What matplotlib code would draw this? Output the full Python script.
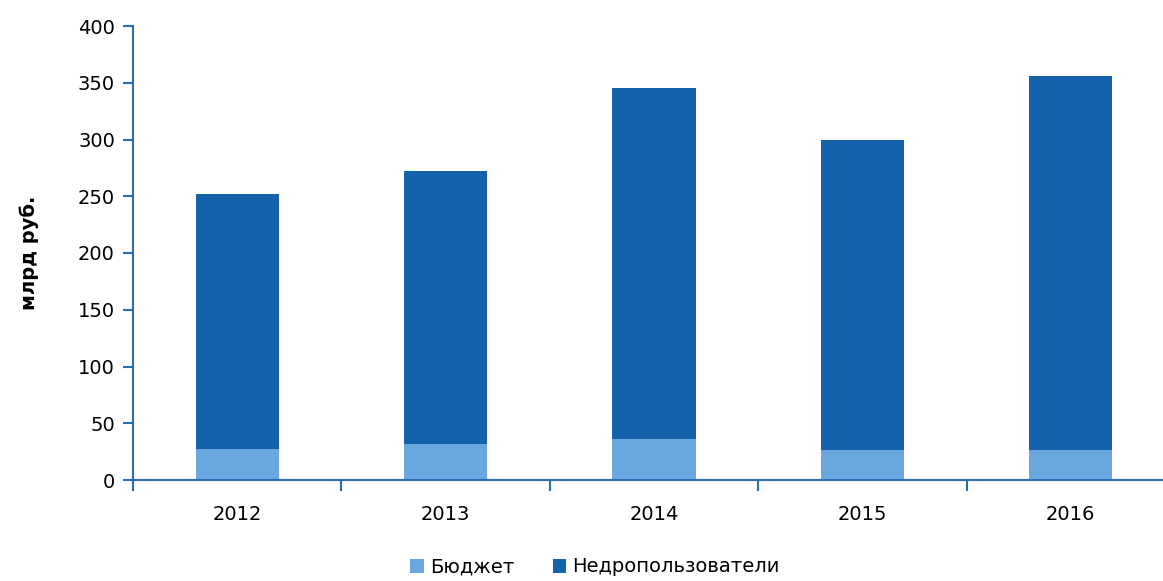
import matplotlib.pyplot as plt
import numpy as np

years = ['2012', '2013', '2014', '2015', '2016']
budget = [27, 32, 36, 26, 26]
totals = [252, 272, 345, 300, 356]
subsoil = [t - b for t, b in zip(totals, budget)]

light = '#69A7DE'
dark = '#1563AC'
axcol = '#2A6DB5'

plt.rcParams['font.family'] = ['DejaVu Sans']

fig = plt.figure(figsize=(11.63, 5.81), dpi=100)
ax = fig.add_axes([133 / 1163, 1 - 480 / 581, 1042 / 1163, 454 / 581])

x = np.arange(len(years))
ax.bar(x, budget, width=0.4, color=light, label='Бюджет', zorder=2)
ax.bar(x, subsoil, width=0.4, bottom=budget, color=dark, label='Недропользователи', zorder=2)

ax.set_xlim(-0.5, len(years) - 0.5)
ax.set_ylim(0, 400)
ax.set_yticks(range(0, 401, 50))
ax.set_xticks(np.arange(-0.5, len(years), 1.0))
ax.set_xticklabels([])
ax.set_xticks(x, minor=True)
ax.set_xticklabels(years, minor=True)
ax.tick_params(axis='x', which='minor', length=0, pad=18, labelsize=14)
ax.tick_params(axis='x', which='major', length=8, width=1.5, color=axcol, direction='out')
ax.tick_params(axis='y', length=7, width=1.5, color=axcol, labelsize=14, pad=6)

for s in ['top', 'right']:
    ax.spines[s].set_visible(False)
for s in ['left', 'bottom']:
    ax.spines[s].set_color(axcol)
    ax.spines[s].set_linewidth(1.5)

ax.set_ylabel('млрд руб.', fontsize=14, fontweight='bold', labelpad=28)

fig.legend(loc='center', bbox_to_anchor=(595 / 1163, 1 - 567 / 581), ncol=2, frameon=False,
           fontsize=14, handlelength=0.7, handleheight=0.7, handletextpad=0.3, columnspacing=2.0)

fig.savefig('out.png', dpi=100)
